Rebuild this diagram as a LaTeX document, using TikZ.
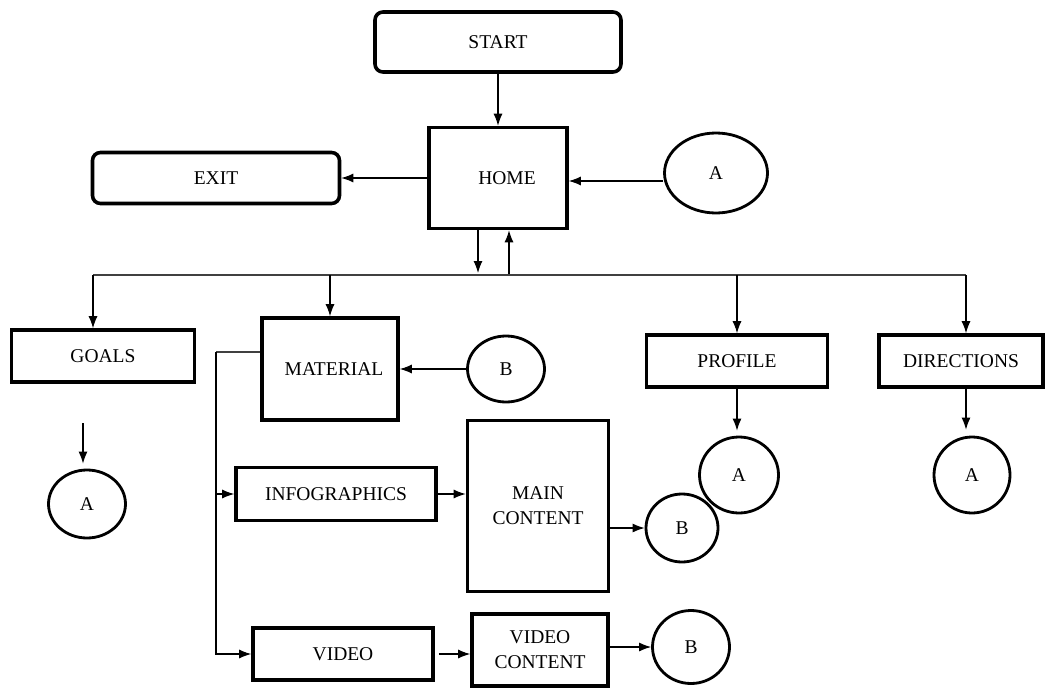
\documentclass[tikz,border=0pt]{standalone}
\usepackage{fontspec}
\setmainfont{Liberation Serif}
\usepackage{tikz}
\usetikzlibrary{arrows.meta, shapes.geometric, positioning}

\tikzset{
    box/.style={draw, line width=3.6pt, minimum width=#1, inner sep=2pt, align=center, font=\fontsize{19.5}{25}\selectfont},
    rbox/.style={box=#1, rounded corners=8pt},
    conn/.style={ellipse, draw, line width=2.8pt, inner sep=0pt, font=\fontsize{19.5}{25}\selectfont},
    arr/.style={-{Latex[length=12pt,width=9pt]}, line width=1.1pt},
    line/.style={line width=1.1pt, black!75}
}

\begin{document}
\begin{tikzpicture}[x=1pt,y=-1pt]
    \useasboundingbox (0,0) rectangle (1052,688);

    % top part
    \node[rbox=246pt, minimum height=60pt] (start) at (498,42) {START};
    \node[box=138pt, minimum height=101pt] (home) at (498,178) {\hspace*{18pt}HOME};
    \node[rbox=247pt, minimum height=51pt] (exit) at (216,178) {EXIT};
    \node[conn, minimum width=103pt, minimum height=80pt] (aTop) at (716,173) {A};

    % menu row
    \node[box=183pt, minimum height=52pt] (goals) at (103,356) {GOALS};
    \node[box=136pt, minimum height=102pt] (material) at (330,369) {\hspace*{8pt}MATERIAL};
    \node[conn, minimum width=77pt, minimum height=66pt] (bMat) at (506,369) {B};
    \node[box=181pt, minimum height=52pt] (profile) at (737,361) {PROFILE};
    \node[box=164pt, minimum height=52pt] (directions) at (961,361) {DIRECTIONS};

    \node[conn, minimum width=79pt, minimum height=76pt] (aProf) at (739,475) {A};
    \node[conn, minimum width=76pt, minimum height=76pt] (aDir) at (972,475) {A};
    \node[conn, minimum width=77pt, minimum height=68pt] (aGoals) at (87,504) {A};

    % material content
    \node[box=200pt, minimum height=53pt] (info) at (336,494) {INFOGRAPHICS};
    \node[box=141pt, minimum height=171pt] (main) at (538,506) {MAIN\\CONTENT};
    \node[conn, minimum width=72pt, minimum height=68pt] (bMain) at (682,528) {B};
    \node[box=180pt, minimum height=52pt] (video) at (343,654) {VIDEO};
    \node[box=136pt, minimum height=72pt] (vcontent) at (540,650) {VIDEO\\CONTENT};
    \node[conn, minimum width=77pt, minimum height=73pt] (bVid) at (691,647) {B};

    \coordinate (busL) at (93,275);
    \coordinate (busR) at (966,275);
    \coordinate (trunk) at (216,352);
    \coordinate (goalsArr) at (83,423);

    % connectors
    \draw[arr] (start) -- (home);
    \draw[arr] (home.west) -- (exit.east);
    \draw[arr] (aTop.west |- 0,181) -- (home.east |- 0,181);
    \draw[arr] ([xshift=-20pt]home.south) -- ([xshift=-20pt,yshift=2pt]home.south |- busL);
    \draw[arr] ([xshift=11pt]home.south |- busL) -- ([xshift=11pt]home.south);
    \draw[line] (busL) -- (busR);
    \draw[arr] (busL) -- (busL |- goals.north);
    \draw[arr] (material |- busL) -- (material);
    \draw[arr] (profile |- busL) -- (profile);
    \draw[arr] (busR) -- (busR |- directions.north);

    \draw[arr] (bMat) -- (material);
    \draw[arr, shorten >=5pt] (profile.south) -- (profile.south |- aProf.north);
    \draw[arr, shorten >=6pt] (busR |- directions.south) -- (busR |- aDir.north);
    \draw[arr, shorten >=5pt] (goalsArr) -- (goalsArr |- aGoals.north);

    \draw[line] ([yshift=17pt]material.west) -- (trunk);
    \draw[arr] (trunk) |- (video);
    \draw[arr] (trunk |- info) -- (info);
    \draw[arr] (info) -- (info -| main.west);
    \draw[arr] (main.east |- bMain) -- (bMain);
    \draw[arr, shorten <=4pt] (video) -- (video -| vcontent.west);
    \draw[arr] (vcontent.east |- bVid) -- (bVid);
\end{tikzpicture}
\end{document}
